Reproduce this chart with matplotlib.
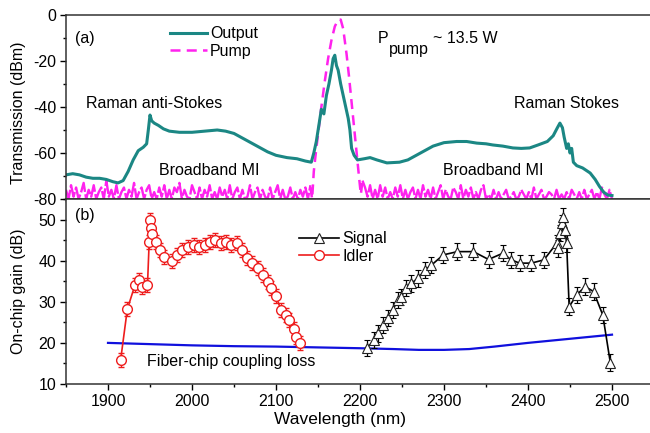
import numpy as np
import matplotlib
matplotlib.use("Agg")
import matplotlib.pyplot as plt
from matplotlib.lines import Line2D
from matplotlib.ticker import MultipleLocator

plt.rcParams['font.family'] = ['Liberation Sans', 'DejaVu Sans']
plt.rcParams['font.size'] = 11.5
plt.rcParams['axes.unicode_minus'] = False

# ---------------- panel (a): transmission ----------------
out_wl = [1850, 1858, 1866, 1874, 1882, 1890, 1898, 1906, 1912, 1918, 1924, 1930, 1936,
          1942, 1946, 1948, 1950, 1952, 1955, 1960, 1966, 1973, 1985, 2000, 2015, 2030,
          2040, 2050, 2060, 2070, 2080, 2090, 2100, 2113, 2125, 2135, 2142, 2145, 2148,
          2151, 2154, 2157, 2160, 2163, 2166, 2168, 2170, 2172, 2174, 2177, 2180, 2183,
          2186, 2188, 2190, 2193, 2197, 2205, 2212, 2220, 2232, 2247, 2257, 2267, 2277,
          2287, 2300, 2315, 2327, 2339, 2350, 2358, 2370, 2382, 2392, 2402, 2412, 2423,
          2430, 2435, 2438, 2441, 2443, 2446, 2448, 2450, 2452, 2454, 2458, 2465, 2474,
          2480, 2485, 2490, 2495, 2500]
out_db = [-69.5, -69, -69.5, -70.5, -71, -71, -71.5, -72.5, -73, -72, -68, -63, -59,
          -57.5, -56, -50, -43.5, -46, -47, -48, -49.5, -50.5, -51, -51, -50.5, -50,
          -50.5, -51.5, -53.5, -55.5, -57.5, -59.5, -61, -62, -62.5, -63.5, -64, -60, -55,
          -48, -41, -43, -35, -30, -24, -19, -17.5, -22, -24, -30, -35, -40,
          -45, -50, -58, -61, -63, -62.5, -62, -63, -64.3, -64, -63, -61, -59,
          -57, -55.5, -55, -55, -55.7, -56, -56.5, -57, -57.8, -58, -57.8, -56.5, -55,
          -52.5, -49, -47, -49, -53, -58, -56, -60, -58, -64, -65.5, -66.5, -68.7,
          -71.5, -74.5, -77, -78.3, -78.5]

pump_noise_left = [
    -76, -80, -74, -79, -75, -80, -77, -73, -80, -76,
    -79, -74, -80, -77, -75, -80, -72, -79, -76, -80,
    -74, -80, -77, -75, -80, -76, -79, -73, -80, -77,
    -75, -80, -76, -74, -80, -77, -80, -75, -79, -74,
    -80, -76, -80, -75, -77, -73, -80, -76, -79, -80,
    -74, -77, -80, -75, -80, -76, -79, -74, -80, -77,
    -80, -75, -79, -76, -80, -74, -80, -77, -75, -80,
    -76, -80, -79, -74, -80, -77, -75, -80, -76, -79,
    -80, -75, -80, -77, -74, -80, -76, -80, -79, -75,
    -80, -77, -80, -76, -79, -75, -80, -74]
pump_peak_wl = [2141, 2143, 2145, 2148, 2151, 2154, 2158, 2162, 2166, 2170, 2174, 2177,
                2180, 2184, 2187, 2190, 2193, 2196, 2199, 2201, 2203]
pump_peak_db = [-75, -80, -68, -58, -49, -40, -29, -19, -11, -5, -2, -2,
                -6, -17, -27, -38, -49, -60, -71, -78, -72]
pump_noise_right = [
    -72, -75, -79, -74, -80, -76, -80, -74, -79, -75,
    -80, -77, -80, -75, -79, -74, -80, -76, -80, -77,
    -75, -80, -76, -80, -74, -79, -76, -80, -75, -80,
    -77, -74, -80, -76, -79, -80, -75, -77, -80, -74,
    -80, -76, -79, -75, -80, -77, -80, -76, -74, -80,
    -78, -80, -76, -80, -77, -80, -78, -76, -80, -79,
    -77, -80, -79, -76, -78, -80, -77, -80, -75, -80,
    -78, -76, -80, -79, -77, -78, -80, -76, -80, -78,
    -80, -77, -80, -76, -78, -80, -77, -80, -76, -80,
    -78, -76, -80, -77, -80, -75, -78, -80, -76, -80]
pump_left_wl = np.linspace(1850, 2141, len(pump_noise_left))
pump_right_wl = np.linspace(2203, 2500, len(pump_noise_right))

# ---------------- panel (b): gain ----------------
idler_wl = [1915, 1923, 1932, 1937, 1941, 1947, 1949, 1950, 1951, 1952, 1957, 1962,
            1967, 1976, 1982, 1988, 1995, 2002, 2008, 2015, 2021, 2027, 2034, 2041,
            2047, 2053, 2059, 2066, 2072, 2078, 2084, 2090, 2094, 2100, 2106, 2112,
            2116, 2121, 2124, 2129]
idler_gain = [15.8, 28.2, 34, 35.3, 33.5, 34, 44.5, 50, 48, 46.5, 44.5, 42.5,
              41, 40, 41.3, 42.6, 43.4, 43.8, 43.4, 43.8, 44.6, 45, 44.4, 44.6,
              43.8, 44.2, 42.6, 40.6, 39.4, 38.2, 36.5, 34.9, 33.3, 31.3, 28, 26.8,
              25.6, 23.5, 21.5, 19.9]
idler_err = 1.7

signal_wl = [2208, 2217, 2221, 2227, 2233, 2239, 2245, 2249, 2255, 2261, 2269, 2277,
             2285, 2299, 2316, 2335, 2353, 2370, 2380, 2390, 2404, 2419, 2434, 2436,
             2438, 2440, 2442, 2444, 2446, 2449, 2458, 2468, 2478, 2489, 2498]
signal_gain = [18.7, 20.7, 22.3, 24.4, 26, 28, 30.4, 31.2, 33.3, 34.5, 35.7, 37.7,
               38.9, 41.4, 42.2, 42.2, 40.3, 41.8, 40.2, 39.4, 39.4, 40.2, 44.2, 43,
               46.7, 49.1, 50.7, 47.5, 44.2, 28.8, 31.7, 33.7, 32.5, 26.8, 15.2]
signal_err = 2.0

loss_wl = [1900, 1950, 2000, 2050, 2100, 2150, 2200, 2240, 2270, 2300, 2330, 2360,
           2400, 2450, 2500]
loss_db = [20, 19.7, 19.4, 19.2, 19.1, 18.9, 18.7, 18.5, 18.3, 18.3, 18.5, 19.1,
           20, 21, 22]

teal = '#1b8784'
magenta = '#ff22ee'
red = '#ee1c1c'
blue = '#1010dd'

fig = plt.figure(figsize=(6.5, 4.33), dpi=100)
left = 66 / 650
width = (654 - 66) / 650
ax1 = fig.add_axes([left, 1 - 199 / 433, width, 184 / 433])
ax2 = fig.add_axes([left, 1 - 384 / 433, width, 185 / 433])

for ax in (ax1, ax2):
    ax.set_xlim(1850, 2550)
    ax.xaxis.set_major_locator(MultipleLocator(100))
    ax.xaxis.set_minor_locator(MultipleLocator(50))
    ax.tick_params(which='major', direction='out', length=4, width=1, labelsize=11.5, pad=3)
    ax.tick_params(which='minor', direction='out', length=2.5, width=1)
    for s in ax.spines.values():
        s.set_linewidth(1.1)
        s.set_color('#333333')

# panel a
ax1.plot(pump_left_wl, pump_noise_left, color=magenta, lw=1.7, ls=(0, (8, 1)))
ax1.plot(pump_right_wl, pump_noise_right, color=magenta, lw=1.7, ls=(0, (8, 1)))
ax1.plot(pump_peak_wl, pump_peak_db, color=magenta, lw=1.8, ls=(0, (4, 2.5)))
ax1.plot(out_wl, out_db, color=teal, lw=2.2)
ax1.set_ylim(-80, 0)
ax1.yaxis.set_major_locator(MultipleLocator(20))
ax1.yaxis.set_minor_locator(MultipleLocator(10))
ax1.tick_params(axis='x', labelbottom=False)
ax1.set_ylabel('Transmission (dBm)', fontsize=11.5)
ax1.yaxis.set_label_coords(-0.068, 0.47)

h_out = Line2D([], [], color=teal, lw=2.2)
h_pump = Line2D([], [], color=magenta, lw=1.8, ls=(0, (4, 2.5)))
ax1.legend([h_out, h_pump], ['Output', 'Pump'], loc='upper left',
           bbox_to_anchor=(0.158, 1.0), frameon=False, handlelength=2.3,
           handletextpad=0.2, labelspacing=0.15, borderpad=0.2, fontsize=11.5)

ax1.text(1861, -10, '(a)', fontsize=11.5, va='center')
ax1.text(2221, -10, 'P', fontsize=11.5, va='center')
ax1.text(2234, -15, 'pump', fontsize=11.5, va='center')
ax1.text(2287, -10, '~ 13.5 W', fontsize=11.5, va='center')
ax1.text(1874, -38.5, 'Raman anti-Stokes', fontsize=11.5, va='center')
ax1.text(2383, -38.5, 'Raman Stokes', fontsize=11.5, va='center')
ax1.text(1961, -67.5, 'Broadband MI', fontsize=11.5, va='center')
ax1.text(2299, -67.5, 'Broadband MI', fontsize=11.5, va='center')

# panel b
ax2.plot(loss_wl, loss_db, color=blue, lw=1.6)
ax2.errorbar(idler_wl, idler_gain, yerr=idler_err, fmt='-o', color=red, lw=1.2,
             ms=7, mfc='white', mec=red, mew=1.0, ecolor=red, elinewidth=0.9,
             capsize=2, capthick=0.9)
ax2.errorbar(signal_wl, signal_gain, yerr=signal_err, fmt='-^', color='black', lw=1.2,
             ms=7.5, mfc='white', mec='#222222', mew=0.8, ecolor='black', elinewidth=0.9,
             capsize=2, capthick=0.9)
ax2.set_ylim(10, 55)
ax2.yaxis.set_major_locator(MultipleLocator(10))
ax2.yaxis.set_minor_locator(MultipleLocator(5))
ax2.set_ylabel('On-chip gain (dB)', fontsize=11.5)
ax2.yaxis.set_label_coords(-0.068, 0.5)
ax2.set_xlabel('Wavelength (nm)', fontsize=12.5)
ax2.xaxis.set_label_coords(0.466, -0.15)

h_sig = Line2D([], [], color='black', lw=1.2, marker='^', ms=7.5, mfc='white',
               mec='#222222', mew=0.8)
h_idl = Line2D([], [], color=red, lw=1.2, marker='o', ms=7, mfc='white', mec=red, mew=1.0)
ax2.legend([h_sig, h_idl], ['Signal', 'Idler'], loc='upper left',
           bbox_to_anchor=(0.378, 0.885), frameon=False, handlelength=2.5,
           handletextpad=0.2, labelspacing=0.15, borderpad=0.2, fontsize=11.5)

ax2.text(1861, 51, '(b)', fontsize=11.5, va='center')
ax2.text(1947, 15.4, 'Fiber-chip coupling loss', fontsize=11.5, va='center')

fig.savefig('out.png', dpi=100)
